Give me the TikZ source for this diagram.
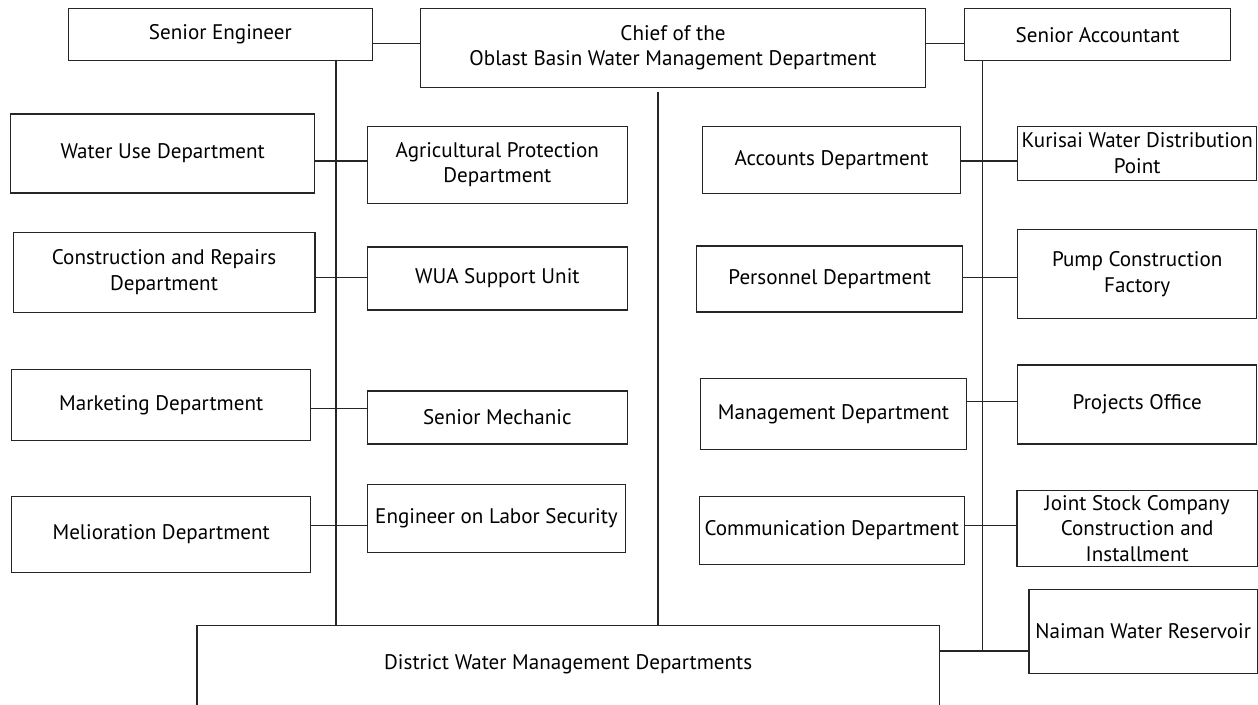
\documentclass[tikz,border=0pt]{standalone}
\usepackage{fontspec}
\setmainfont{PT Sans}
\usepackage{tikz}
\usetikzlibrary{positioning, calc}

\begin{document}
\begin{tikzpicture}[
  x=0.02cm, y=-0.02cm,
  every node/.style={font=\fontsize{12}{14.5}\selectfont},
  orgbox/.style={draw=black!85, line width=0.6pt, inner sep=1pt, outer sep=0pt, align=center},
  link/.style={black!85, line width=0.6pt},
]
\useasboundingbox (0,0) rectangle (1258,704);

% Top row
\node[orgbox, minimum width=6.08cm, minimum height=1.05cm] (se) at (220.4,34.7) {Senior Engineer};
\node[orgbox, minimum width=10.09cm, minimum height=1.58cm] (chief) at (673,47.8) {Chief of the\\Oblast Basin Water Management Department};
\node[orgbox, minimum width=5.33cm, minimum height=1.05cm] (sa) at (1097.5,34.7) {Senior Accountant};

% Left column
\node[orgbox, minimum width=6.09cm, minimum height=1.58cm] (wud) at (162.7,153.5) {Water Use Department};
\node[orgbox, minimum width=6.04cm, minimum height=1.59cm] (crd) at (164,272.3) {Construction and Repairs\\Department};
\node[orgbox, minimum width=5.98cm, minimum height=1.43cm] (mkt) at (161.2,405.2) {Marketing Department};
\node[orgbox, minimum width=5.98cm, minimum height=1.51cm] (mel) at (161.2,534.3) {Melioration Department};

\node[orgbox, minimum width=5.19cm, minimum height=1.53cm] (agri) at (497.3,164.8) {Agricultural Protection\\Department};
\node[orgbox, minimum width=5.19cm, minimum height=1.26cm] (wua) at (497.3,278.5) {WUA Support Unit};
\node[orgbox, minimum width=5.19cm, minimum height=1.06cm] (mech) at (497.3,417.5) {Senior Mechanic};
\node[orgbox, minimum width=5.16cm, minimum height=1.37cm] (labor) at (496.5,518.3) {Engineer on Labor Security};

% Right column
\node[orgbox, minimum width=5.17cm, minimum height=1.33cm] (acc) at (831.5,159.8) {Accounts Department};
\node[orgbox, minimum width=5.32cm, minimum height=1.32cm] (pers) at (829.7,279) {Personnel Department};
\node[orgbox, minimum width=5.33cm, minimum height=1.42cm] (mgmt) at (833.5,413.8) {Management Department};
\node[orgbox, minimum width=5.31cm, minimum height=1.35cm] (comm) at (831.8,530.5) {Communication Department};

\node[orgbox, minimum width=4.78cm, minimum height=1.07cm] (kur) at (1137.2,153.3) {Kurisai Water Distribution\\Point};
\node[orgbox, minimum width=4.78cm, minimum height=1.79cm] (pump) at (1137.2,274.2) {Pump Construction\\Factory};
\node[orgbox, minimum width=4.78cm, minimum height=1.58cm] (proj) at (1137.2,404.5) {Projects Office};
\node[orgbox, minimum width=4.81cm, minimum height=1.53cm] (jsc) at (1137.2,528.3) {Joint Stock Company\\Construction and\\Installment};
\node[orgbox, minimum width=4.57cm, minimum height=1.68cm] (nai) at (1143.2,631.3) {Naiman Water Reservoir};

% Bottom box, cut off by the page edge
\node[orgbox, anchor=north, minimum width=14.85cm, inner ysep=0pt, text height=0.87cm, text depth=0.9cm] (dist) at (568.2,625.7) {District Water Management Departments};

% Trunk lines
\coordinate (lt) at (336,0);
\coordinate (ct) at (658,0);
\coordinate (rt) at (982.4,0);
\coordinate (rtend) at (982.4,651);
\draw[link] (se.south -| lt) -- (dist.north -| lt);
\draw[link, shorten <=0.09cm] (chief.south -| ct) -- (dist.north -| ct);
\draw[link] (sa.south -| rt) -- (rtend);

% Links
\draw[link] (se.east |- 0,43.3) -- (chief.west |- 0,43.3);
\draw[link] (chief.east |- 0,43.3) -- (sa.west |- 0,43.3);
\draw[link] (wud.east |- 0,161) -- (agri.west |- 0,161);
\draw[link] (crd.east |- 0,277.7) -- (wua.west |- 0,277.7);
\draw[link] (mkt.east |- 0,408.3) -- (mech.west |- 0,408.3);
\draw[link] (mel.east |- 0,525.7) -- (labor.west |- 0,525.7);
\draw[link] (acc.east |- 0,161) -- (kur.west |- 0,161);
\draw[link] (pers.east |- 0,277.7) -- (pump.west |- 0,277.7);
\draw[link] (mgmt.east |- 0,401.3) -- (proj.west |- 0,401.3);
\draw[link] (comm.east |- 0,525.7) -- (jsc.west |- 0,525.7);
\draw[link] (dist.east |- rtend) -- (nai.west |- rtend);

\end{tikzpicture}
\end{document}
